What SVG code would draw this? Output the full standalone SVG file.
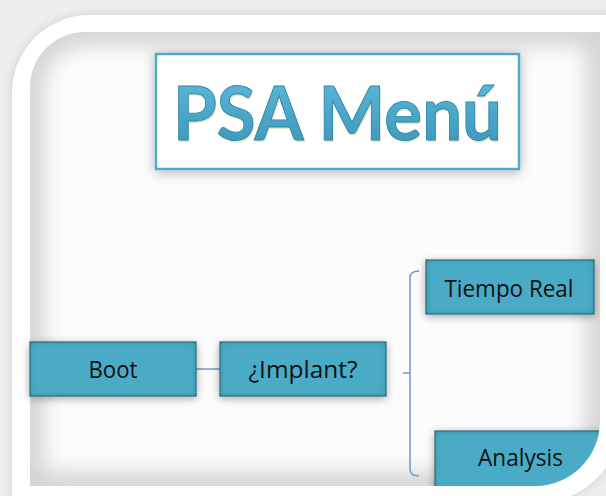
<svg xmlns="http://www.w3.org/2000/svg" width="606" height="496" viewBox="0 0 606 496">
  <style>
    .box { fill: #4aabc5; stroke: #2b7184; stroke-width: 1; }
    .label { font-family: "Open Sans", "Liberation Sans", sans-serif; font-size: 23px; fill: #111; text-anchor: middle; }
    .link { fill: none; stroke: #7396c9; stroke-width: 1.5; }
  </style>
  <defs>
    <filter id="frameShadow" x="-10%" y="-10%" width="120%" height="120%">
      <feDropShadow dx="0" dy="0" stdDeviation="5" flood-color="#000" flood-opacity="0.15"/>
    </filter>
    <filter id="soft" x="-10%" y="-10%" width="120%" height="120%">
      <feGaussianBlur stdDeviation="11"/>
    </filter>
    <filter id="titleShadow" x="-10%" y="-20%" width="120%" height="140%">
      <feDropShadow dx="0" dy="2" stdDeviation="6" flood-color="#000" flood-opacity="0.3"/>
    </filter>
    <filter id="boxFx" x="-20%" y="-50%" width="140%" height="200%">
      <feGaussianBlur in="SourceAlpha" stdDeviation="4.5" result="b"/>
      <feOffset in="b" dy="2" result="ob"/>
      <feFlood flood-color="#000" flood-opacity="0.35"/>
      <feComposite in2="ob" operator="in" result="drop"/>
      <feFlood flood-color="#15505f" flood-opacity="0.7" result="c"/>
      <feComposite in="c" in2="SourceAlpha" operator="out" result="inv"/>
      <feGaussianBlur in="inv" stdDeviation="2.5" result="invb"/>
      <feComposite in="invb" in2="SourceAlpha" operator="in" result="inner"/>
      <feMerge>
        <feMergeNode in="drop"/>
        <feMergeNode in="SourceGraphic"/>
        <feMergeNode in="inner"/>
      </feMerge>
    </filter>
    <linearGradient id="titleFill" x1="0" y1="0" x2="0" y2="1">
      <stop offset="0" stop-color="#62bddc"/>
      <stop offset="0.55" stop-color="#4aa6c8"/>
      <stop offset="1" stop-color="#3a94b8"/>
    </linearGradient>
    <clipPath id="panelClip">
      <path d="M30,87 A55,55 0 0 1 85,32 L600,32 L600,421 A65,65 0 0 1 535,486 L30,486 Z"/>
    </clipPath>
  </defs>

  <!-- backdrop -->
  <rect x="0" y="0" width="606" height="496" fill="#eeeeee"/>

  <!-- white frame -->
  <path d="M12,93 A78,78 0 0 1 90,15 L620,15 L620,422 A80,80 0 0 1 540,502 L12,502 Z" fill="#ffffff" filter="url(#frameShadow)"/>

  <!-- inner panel with soft inset shading -->
  <g clip-path="url(#panelClip)">
    <path d="M30,87 A55,55 0 0 1 85,32 L600,32 L600,421 A65,65 0 0 1 535,486 L30,486 Z" fill="#fcfcfc"/>
    <path d="M30,87 A55,55 0 0 1 85,32 L600,32 L600,421 A65,65 0 0 1 535,486 L30,486 Z" fill="none" stroke="#cdcdcd" stroke-width="24" filter="url(#soft)"/>
  </g>

  <!-- title -->
  <g id="title">
    <rect x="156" y="54" width="363" height="115" fill="#ffffff" stroke="#4bacc6" stroke-width="2.5" filter="url(#titleShadow)"/>
    <text x="338.5" y="141.5" font-family="Lato, 'Open Sans', sans-serif" font-weight="700" font-size="74" text-anchor="middle" textLength="329" lengthAdjust="spacingAndGlyphs" fill="#e3e8bf">PSA Menú</text>
    <text x="337.5" y="140" font-family="Lato, 'Open Sans', sans-serif" font-weight="700" font-size="74" text-anchor="middle" textLength="329" lengthAdjust="spacingAndGlyphs" fill="url(#titleFill)" stroke="#2f86a6" stroke-width="0.9">PSA Menú</text>
  </g>

  <!-- connectors -->
  <g id="connectors">
    <path class="link" d="M196,369 H220"/>
    <path class="link" d="M419,271 Q410,271 410,278 V469 Q410,476 419,476"/>
    <path class="link" d="M403,373 H410"/>
  </g>

  <g id="boot">
    <rect class="box" x="30" y="342" width="166" height="54" filter="url(#boxFx)"/>
    <text class="label" x="113" y="378" textLength="49" lengthAdjust="spacingAndGlyphs">Boot</text>
  </g>

  <g id="implant">
    <rect class="box" x="220" y="342" width="166" height="54" filter="url(#boxFx)"/>
    <text class="label" x="303" y="378" textLength="109" lengthAdjust="spacingAndGlyphs">¿Implant?</text>
  </g>

  <g id="tiempo-real">
    <rect class="box" x="426" y="260" width="168" height="54" filter="url(#boxFx)"/>
    <text class="label" x="509" y="296.5" textLength="129" lengthAdjust="spacingAndGlyphs">Tiempo Real</text>
  </g>

  <g id="analysis" clip-path="url(#panelClip)">
    <rect class="box" x="435" y="431" width="168" height="58" filter="url(#boxFx)"/>
    <text class="label" x="520.5" y="466" textLength="85" lengthAdjust="spacingAndGlyphs">Analysis</text>
  </g>
</svg>
